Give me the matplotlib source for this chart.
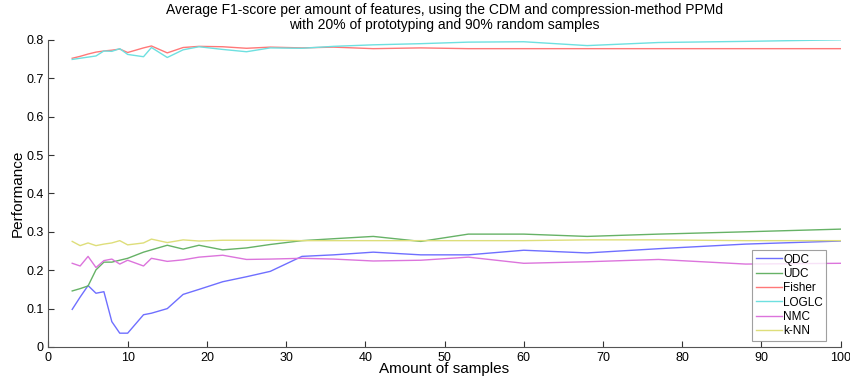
#!/usr/bin/env python3
"""Average F1-score per amount of samples (CDM, PPMd) -> out.png"""

import matplotlib
matplotlib.use("Agg")
import matplotlib.pyplot as plt

samples = [3, 4, 5, 6, 7, 8, 9, 10, 12, 13, 15, 17, 19, 22, 25, 28, 32, 36,
           41, 47, 53, 60, 68, 77, 88, 100]

qdc = [0.098, 0.130, 0.160, 0.140, 0.144, 0.066, 0.036, 0.036, 0.084, 0.088,
       0.100, 0.137, 0.150, 0.170, 0.183, 0.197, 0.236, 0.240, 0.247, 0.240,
       0.240, 0.252, 0.245, 0.256, 0.268, 0.276]
udc = [0.146, 0.152, 0.159, 0.201, 0.221, 0.221, 0.226, 0.231, 0.247, 0.253,
       0.265, 0.255, 0.265, 0.253, 0.258, 0.267, 0.277, 0.282, 0.288, 0.275,
       0.294, 0.294, 0.288, 0.294, 0.300, 0.307]
fisher = [0.752, 0.757, 0.763, 0.768, 0.771, 0.773, 0.776, 0.767, 0.779, 0.784,
          0.766, 0.780, 0.783, 0.782, 0.778, 0.781, 0.779, 0.781, 0.777, 0.779,
          0.777, 0.777, 0.777, 0.777, 0.777, 0.777]
loglc = [0.749, 0.752, 0.755, 0.758, 0.771, 0.770, 0.777, 0.762, 0.756, 0.780,
         0.754, 0.774, 0.782, 0.775, 0.769, 0.779, 0.778, 0.783, 0.787, 0.790,
         0.794, 0.795, 0.785, 0.793, 0.796, 0.800]
nmc = [0.218, 0.211, 0.236, 0.207, 0.225, 0.229, 0.216, 0.226, 0.211, 0.231,
       0.223, 0.227, 0.234, 0.239, 0.228, 0.229, 0.231, 0.229, 0.224, 0.226,
       0.234, 0.218, 0.222, 0.228, 0.216, 0.218]
knn = [0.275, 0.264, 0.271, 0.264, 0.268, 0.271, 0.277, 0.266, 0.271, 0.281,
       0.272, 0.279, 0.276, 0.278, 0.278, 0.278, 0.277, 0.277, 0.277, 0.277,
       0.277, 0.277, 0.279, 0.279, 0.277, 0.277]

series = [
    ("QDC", qdc, "#6f6fff"),
    ("UDC", udc, "#66b266"),
    ("Fisher", fisher, "#ff7878"),
    ("LOGLC", loglc, "#6ee0e0"),
    ("NMC", nmc, "#dc74dc"),
    ("k-NN", knn, "#dede7a"),
]

plt.rcParams["font.family"] = ["Liberation Sans", "DejaVu Sans"]

fig = plt.figure(figsize=(8.5, 3.83), dpi=100)
ax = fig.add_axes([0.057, 0.094, 0.932, 0.802])

for name, values, color in series:
    ax.plot(samples, values, color=color, linewidth=1.0, label=name)

ax.set_xlim(0, 100)
ax.set_ylim(0, 0.8)
ax.set_xticks(range(0, 101, 10))
ax.set_yticks([i / 10 for i in range(9)])
ax.set_yticklabels(["0"] + [f"{i / 10:.1f}" for i in range(1, 9)])
ax.tick_params(direction="in", length=4, labelsize=9, colors="#333333",
               labelcolor="black")
for side in ("top", "right"):
    ax.spines[side].set_visible(False)
for side in ("left", "bottom"):
    ax.spines[side].set_color("#555555")

ax.set_xlabel("Amount of samples", fontsize=11, labelpad=-1)
ax.set_ylabel("Performance", fontsize=11, labelpad=1)
ax.set_title("Average F1-score per amount of features, using the CDM and compression-method PPMd\n"
             "with 20% of prototyping and 90% random samples", fontsize=10, pad=8,
             linespacing=1.1)

leg = ax.legend(loc="lower right", bbox_to_anchor=(0.982, 0.02), fontsize=8.5,
                frameon=True, fancybox=False, handlelength=2.2, handletextpad=0.1,
                borderpad=0.3, labelspacing=0.2, borderaxespad=0.0)
leg.get_frame().set_edgecolor("#888888")
leg.get_frame().set_linewidth(0.8)

fig.savefig("out.png", dpi=100)
